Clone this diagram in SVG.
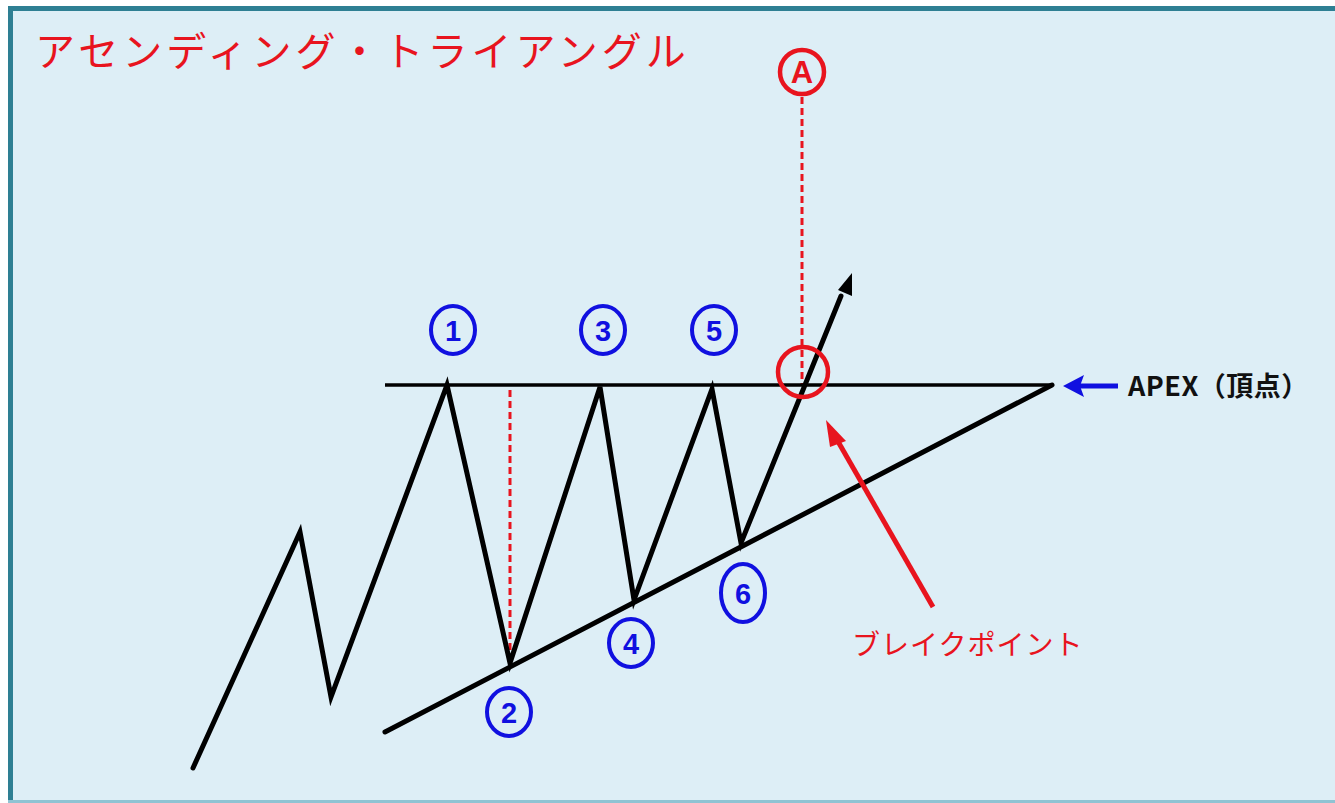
<svg xmlns="http://www.w3.org/2000/svg" width="1335" height="803" viewBox="0 0 1335 803">
<defs>
<style>
.num{fill:none;stroke:#1010e0;stroke-width:4}
.numt{font-family:"Liberation Sans",Arial,sans-serif;font-weight:bold;font-size:29px;fill:#1010e0;text-anchor:middle}
.blk{fill:none;stroke:#000;stroke-width:5;stroke-linejoin:miter;stroke-linecap:round}
.dash{stroke:#e8141e;stroke-width:3;stroke-dasharray:7,4}
</style>
</defs>
<rect x="0" y="0" width="1335" height="803" fill="#ffffff"/>
<rect x="8" y="6" width="1327" height="797" fill="#ddeef6"/>
<rect x="8" y="6" width="5" height="797" fill="#2e7f93"/>
<rect x="8" y="6" width="1327" height="5" fill="#2e7f93"/>
<rect x="8" y="800" width="1327" height="3" fill="#8fc3d3"/>
<text x="35" y="66" font-family="'Noto Sans CJK JP',sans-serif" font-size="40" letter-spacing="4" fill="#e8141e">アセンディング・トライアングル</text>
<g id="connectors">
<line class="dash" x1="802" y1="97" x2="802" y2="385"/>
<line class="dash" x1="510" y1="390" x2="510" y2="662"/>
<line x1="385" y1="385" x2="1052" y2="385" stroke="#000" stroke-width="3.5"/>
<line x1="385" y1="732" x2="1052" y2="385" stroke="#000" stroke-width="5" stroke-linecap="round"/>
<polyline class="blk" points="193,768 300,532 331,697 447,385 510,663 600,387 634,600 712,389 741,543 841,296"/>
<path d="M852,273 L852,296 L838,290 Z" fill="#000"/>
<line x1="933" y1="607" x2="836" y2="438" stroke="#e8141e" stroke-width="5"/>
<path d="M826,420 L846,441 L830,447 Z" fill="#e8141e"/>
<line x1="1118" y1="386" x2="1080" y2="386" stroke="#1010e0" stroke-width="5"/>
<path d="M1063,386 L1084,375 L1080,386 L1084,397 Z" fill="#1010e0"/>
</g>
<g id="breakpoint">
<circle cx="803" cy="372" r="25" fill="none" stroke="#e8141e" stroke-width="4.5"/>
</g>
<g id="nodeA">
<circle cx="802" cy="72" r="22" fill="none" stroke="#e8141e" stroke-width="4.5"/>
<text x="802" y="83" font-family="'Liberation Sans',Arial,sans-serif" font-weight="bold" font-size="31" fill="#e8141e" text-anchor="middle">A</text>
</g>
<g id="n1"><ellipse class="num" cx="453" cy="330" rx="22" ry="24"/><text class="numt" x="453" y="341">1</text></g>
<g id="n3"><ellipse class="num" cx="603" cy="330" rx="22" ry="24"/><text class="numt" x="603" y="341">3</text></g>
<g id="n5"><ellipse class="num" cx="714" cy="330" rx="22" ry="24"/><text class="numt" x="714" y="341">5</text></g>
<g id="n2"><ellipse class="num" cx="509" cy="712" rx="22" ry="24"/><text class="numt" x="509" y="723">2</text></g>
<g id="n4"><ellipse class="num" cx="631" cy="643" rx="22" ry="24"/><text class="numt" x="631" y="654">4</text></g>
<g id="n6"><ellipse class="num" cx="743" cy="593" rx="22" ry="29"/><text class="numt" x="743" y="604">6</text></g>
<g id="apex">
<text x="1128" y="396" font-family="'Noto Sans CJK JP',sans-serif" font-weight="bold" font-size="27" letter-spacing="0.5" fill="#111">APEX（頂点）</text>
</g>
<g id="breaklabel">
<text x="852" y="655" font-family="'Noto Sans CJK JP',sans-serif" font-size="28" letter-spacing="1" fill="#e8141e">ブレイクポイント</text>
</g>
</svg>
